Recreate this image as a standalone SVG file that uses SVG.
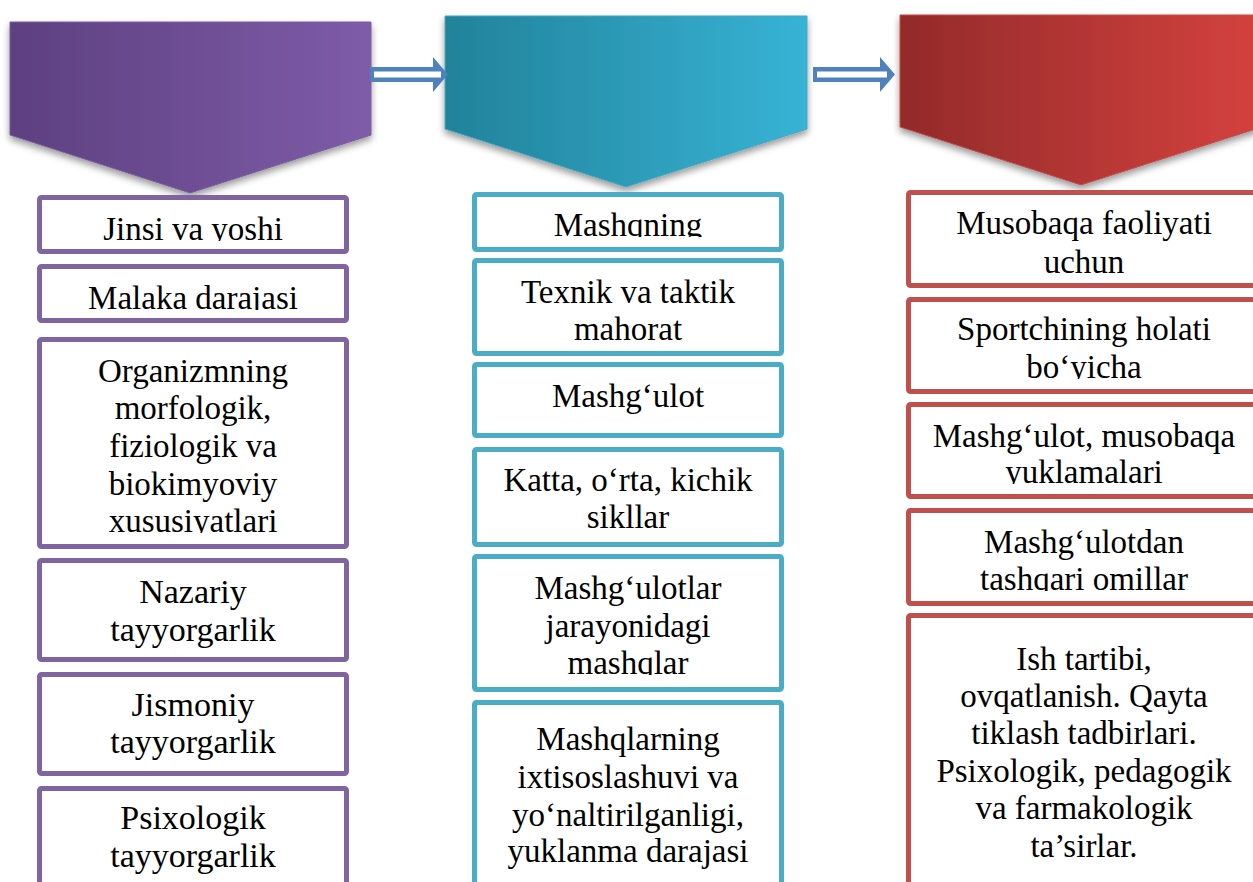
<svg xmlns="http://www.w3.org/2000/svg" width="1253" height="882" viewBox="0 0 1253 882">
<defs>
<linearGradient id="gP" x1="0" y1="0" x2="1" y2="0"><stop offset="0" stop-color="#5D4080"/><stop offset="1" stop-color="#7E5CA8"/></linearGradient>
<linearGradient id="gC" x1="0" y1="0" x2="1" y2="0"><stop offset="0" stop-color="#22829A"/><stop offset="1" stop-color="#37B3D5"/></linearGradient>
<linearGradient id="gR" x1="0" y1="0" x2="1" y2="0"><stop offset="0" stop-color="#932A2A"/><stop offset="1" stop-color="#D4423E"/></linearGradient>
<filter id="sh" x="-10%" y="-10%" width="120%" height="130%"><feDropShadow dx="0" dy="4" stdDeviation="3.5" flood-color="#000" flood-opacity="0.4"/></filter>
<clipPath id="cP1"><rect x="0" y="0" width="1253" height="241"/></clipPath>
<clipPath id="cP2"><rect x="0" y="0" width="1253" height="310"/></clipPath>
<clipPath id="cP3"><rect x="0" y="0" width="1253" height="533"/></clipPath>
<clipPath id="cC1"><rect x="0" y="0" width="1253" height="237"/></clipPath>
<clipPath id="cC5"><rect x="0" y="0" width="1253" height="675"/></clipPath>
<clipPath id="cR2"><rect x="0" y="0" width="1253" height="379"/></clipPath>
<clipPath id="cR3"><rect x="0" y="0" width="1253" height="484"/></clipPath>
<clipPath id="cR4"><rect x="0" y="0" width="1253" height="591"/></clipPath>
</defs>
<style>
.bp{fill:#fff;stroke:#8064A2;stroke-width:5}
.bc{fill:#fff;stroke:#4BACC6;stroke-width:5}
.br{fill:#fff;stroke:#C0504D;stroke-width:5}
.t{font-family:"Liberation Serif","Times New Roman",serif;font-size:33px;fill:#000;text-anchor:middle}
.tt{font-family:"Liberation Serif","Times New Roman",serif;font-size:34px;fill:#000;text-anchor:middle}
.arr{fill:#4F81BD}
</style>
<rect width="1253" height="882" fill="#fff"/>

<g id="header-purple"><polygon points="10,22 371,22 371,135 190,193 10,135" fill="url(#gP)" stroke="#7A5E9E" stroke-width="1" filter="url(#sh)"/></g>
<g id="header-cyan"><polygon points="445,16 807,16 807,129 626,187 445,129" fill="url(#gC)" stroke="#46A8C2" stroke-width="1" filter="url(#sh)"/></g>
<g id="header-red"><polygon points="900,15 1262,15 1262,127 1081,185 900,127" fill="url(#gR)" stroke="#C0504D" stroke-width="1" filter="url(#sh)"/></g>

<g id="connectors">
<polygon class="arr" points="370,67 433,67 433,57 448,74.5 433,92 433,82 370,82"/>
<rect x="374" y="71.5" width="67" height="6" fill="#fff"/>
<polygon class="arr" points="813,67 880,67 880,57 895,74.5 880,92 880,82 813,82"/>
<rect x="817" y="71.5" width="70" height="6" fill="#fff"/>
</g>

<g id="p1"><rect class="bp" x="39.5" y="197.5" width="307" height="54" rx="2"/><text class="t" x="193" y="240" clip-path="url(#cP1)">Jinsi va yoshi</text></g>
<g id="p2"><rect class="bp" x="39.5" y="266.5" width="307" height="54" rx="2"/><text class="t" x="193" y="309" clip-path="url(#cP2)">Malaka darajasi</text></g>
<g id="p3"><rect class="bp" x="39.5" y="339.5" width="307" height="207" rx="2"/>
<text class="t" clip-path="url(#cP3)"><tspan x="193" y="382">Organizmning</tspan><tspan x="193" y="419">morfologik,</tspan><tspan x="193" y="457">fiziologik va</tspan><tspan x="193" y="495">biokimyoviy</tspan><tspan x="193" y="532">xususiyatlari</tspan></text></g>
<g id="p4"><rect class="bp" x="39.5" y="560.5" width="307" height="99" rx="2"/>
<text class="tt"><tspan x="193" y="603">Nazariy</tspan><tspan x="193" y="641">tayyorgarlik</tspan></text></g>
<g id="p5"><rect class="bp" x="39.5" y="674.5" width="307" height="99" rx="2"/>
<text class="tt"><tspan x="193" y="716">Jismoniy</tspan><tspan x="193" y="753">tayyorgarlik</tspan></text></g>
<g id="p6"><rect class="bp" x="39.5" y="788.5" width="307" height="120" rx="2"/>
<text class="tt"><tspan x="193" y="829">Psixologik</tspan><tspan x="193" y="867">tayyorgarlik</tspan></text></g>

<g id="c1"><rect class="bc" x="474.5" y="194.5" width="307" height="55" rx="2"/><text class="t" x="628" y="236" clip-path="url(#cC1)">Mashqning</text></g>
<g id="c2"><rect class="bc" x="474.5" y="260.5" width="307" height="93" rx="2"/>
<text class="t"><tspan x="628" y="303">Texnik va taktik</tspan><tspan x="628" y="340">mahorat</tspan></text></g>
<g id="c3"><rect class="bc" x="474.5" y="364.5" width="307" height="71" rx="2"/><text class="t" x="628" y="407">Mashg‘ulot</text></g>
<g id="c4"><rect class="bc" x="474.5" y="449.5" width="307" height="95" rx="2"/>
<text class="t"><tspan x="628" y="491">Katta, o‘rta, kichik</tspan><tspan x="628" y="528">sikllar</tspan></text></g>
<g id="c5"><rect class="bc" x="474.5" y="556.5" width="307" height="133" rx="2"/>
<text class="t" clip-path="url(#cC5)"><tspan x="628" y="599">Mashg‘ulotlar</tspan><tspan x="628" y="637">jarayonidagi</tspan><tspan x="628" y="674">mashqlar</tspan></text></g>
<g id="c6"><rect class="bc" x="474.5" y="702.5" width="307" height="210" rx="2"/>
<text class="t"><tspan x="628" y="750">Mashqlarning</tspan><tspan x="628" y="788">ixtisoslashuvi va</tspan><tspan x="628" y="826">yo‘naltirilganligi,</tspan><tspan x="628" y="862">yuklanma darajasi</tspan></text></g>

<g id="r1"><rect class="br" x="908.5" y="192.5" width="360" height="93" rx="2"/>
<text class="t"><tspan x="1084" y="234">Musobaqa faoliyati</tspan><tspan x="1084" y="273">uchun</tspan></text></g>
<g id="r2"><rect class="br" x="908.5" y="299.5" width="360" height="92" rx="2"/>
<text class="t" clip-path="url(#cR2)"><tspan x="1084" y="340">Sportchining holati</tspan><tspan x="1084" y="378">bo‘yicha</tspan></text></g>
<g id="r3"><rect class="br" x="908.5" y="404.5" width="360" height="92" rx="2"/>
<text class="t" clip-path="url(#cR3)"><tspan x="1084" y="447">Mashg‘ulot, musobaqa</tspan><tspan x="1084" y="483">yuklamalari</tspan></text></g>
<g id="r4"><rect class="br" x="908.5" y="510.5" width="360" height="93" rx="2"/>
<text class="t" clip-path="url(#cR4)"><tspan x="1084" y="553">Mashg‘ulotdan</tspan><tspan x="1084" y="590">tashqari omillar</tspan></text></g>
<g id="r5"><rect class="br" x="908.5" y="615.5" width="360" height="300" rx="2"/>
<text class="t"><tspan x="1084" y="670">Ish tartibi,</tspan><tspan x="1084" y="707">ovqatlanish. Qayta</tspan><tspan x="1084" y="744">tiklash tadbirlari.</tspan><tspan x="1084" y="782">Psixologik, pedagogik</tspan><tspan x="1084" y="819">va farmakologik</tspan><tspan x="1084" y="857">ta’sirlar.</tspan></text></g>
</svg>
